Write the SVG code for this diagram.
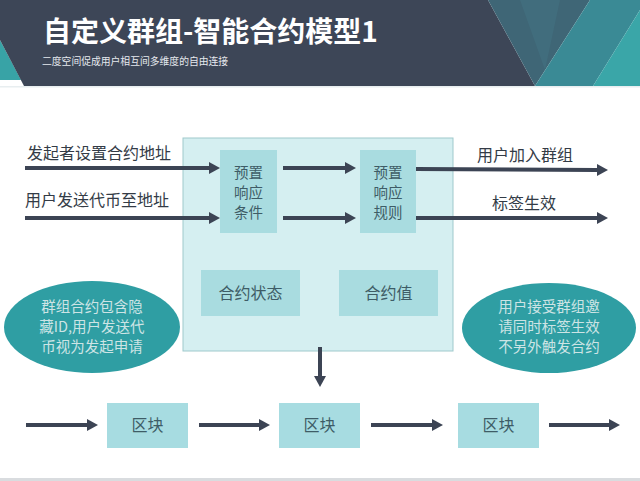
<svg xmlns="http://www.w3.org/2000/svg" width="640" height="481" viewBox="0 0 640 481">
<style>
.t{font-family:"Noto Sans CJK SC","Noto Sans",sans-serif;}
.lbl{font-size:16px;fill:#333b46;}
.in{font-size:14.5px;fill:#3e5c66;text-anchor:middle;}
.blk{font-size:16px;fill:#3e5c66;text-anchor:middle;}
.ell{font-size:14.5px;fill:#cde4e5;text-anchor:middle;}
.ar{stroke:#3c4454;stroke-width:4;fill:none;marker-end:url(#ah);}
.inner{fill:#a9dce0;}
</style>
<defs>
<marker id="ah" markerUnits="userSpaceOnUse" markerWidth="12" markerHeight="12" refX="0" refY="6" orient="auto">
<path d="M0,0 L11,6 L0,12 z" fill="#3c4454"/>
</marker>
</defs>
<rect width="640" height="481" fill="#ffffff"/>
<g id="header">
<polygon points="0,40 21,80 0,80" fill="#38a3a6"/>
<polygon points="0,0 488,0 535,86 24,86 0,40" fill="#3d4657"/>
<polygon points="488,0 590,0 535,86" fill="#3f6676"/>
<polygon points="520,0 560,0 545,70" fill="#437282" opacity="0.6"/>
<polygon points="590,0 640,0 640,10 593,86 535,86" fill="#3a8a95"/>
<polygon points="640,10 640,86 593,86" fill="#3aa6a8"/>
<rect x="0" y="86" width="640" height="1.5" fill="#e8eef0"/>
<text class="t" x="43" y="42" font-size="28" font-weight="bold" fill="#ffffff">自定义群组-智能合约模型1</text>
<text class="t" x="42" y="65" font-size="9.8" fill="#e6e9ee">二度空间促成用户相互间多维度的自由连接</text>
</g>
<g id="contract-box">
<rect x="183" y="138" width="270" height="213" fill="#d5eff1" stroke="#9fc9cc" stroke-width="1"/>
</g>
<g id="cond">
<rect class="inner" x="220" y="150" width="57" height="83"/>
<text class="t in" x="248.5" y="178">预置</text>
<text class="t in" x="248.5" y="198">响应</text>
<text class="t in" x="248.5" y="218">条件</text>
</g>
<g id="rule">
<rect class="inner" x="360" y="150" width="56" height="83"/>
<text class="t in" x="388" y="178">预置</text>
<text class="t in" x="388" y="198">响应</text>
<text class="t in" x="388" y="218">规则</text>
</g>
<g id="state">
<rect class="inner" x="201" y="270" width="99" height="46"/>
<text class="t blk" x="250.5" y="299">合约状态</text>
</g>
<g id="value">
<rect class="inner" x="339" y="270" width="99" height="46"/>
<text class="t blk" x="388.5" y="299">合约值</text>
</g>
<g id="ellipse-left">
<ellipse cx="92" cy="327" rx="88" ry="46" fill="#2f9ea3"/>
<text class="t ell" x="92" y="312">群组合约包含隐</text>
<text class="t ell" x="92" y="332">藏ID,用户发送代</text>
<text class="t ell" x="92" y="352">币视为发起申请</text>
</g>
<g id="ellipse-right">
<ellipse cx="549" cy="328" rx="87" ry="45" fill="#2f9ea3"/>
<text class="t ell" x="549" y="312">用户接受群组邀</text>
<text class="t ell" x="549" y="332">请同时标签生效</text>
<text class="t ell" x="549" y="352">不另外触发合约</text>
</g>
<g id="block1">
<rect x="107" y="403" width="81" height="45" fill="#a7dce1"/>
<text class="t blk" x="147.5" y="431">区块</text>
</g>
<g id="block2">
<rect x="279" y="403" width="81" height="45" fill="#a7dce1"/>
<text class="t blk" x="319.5" y="431">区块</text>
</g>
<g id="block3">
<rect x="458" y="403" width="81" height="45" fill="#a7dce1"/>
<text class="t blk" x="498.5" y="431">区块</text>
</g>
<g id="labels">
<text class="t lbl" x="27" y="159">发起者设置合约地址</text>
<text class="t lbl" x="25" y="206">用户发送代币至地址</text>
<text class="t lbl" x="477" y="161">用户加入群组</text>
<text class="t lbl" x="492" y="209">标签生效</text>
</g>
<g id="connectors">
<line class="ar" x1="25" y1="168" x2="209" y2="168"/>
<line class="ar" x1="25" y1="218" x2="209" y2="218"/>
<line class="ar" x1="283" y1="168" x2="345" y2="168"/>
<line class="ar" x1="283" y1="218" x2="345" y2="218"/>
<line class="ar" x1="416" y1="169" x2="597" y2="170"/>
<line class="ar" x1="416" y1="218" x2="597" y2="218"/>
<line class="ar" x1="320" y1="347" x2="320" y2="376"/>
<line class="ar" x1="26" y1="425" x2="87" y2="425"/>
<line class="ar" x1="199" y1="425" x2="259" y2="425"/>
<line class="ar" x1="371" y1="425" x2="432" y2="425"/>
<line class="ar" x1="549" y1="425" x2="609" y2="425"/>
</g>
<rect x="0" y="478" width="640" height="3" fill="#d9dcdf"/>
</svg>
